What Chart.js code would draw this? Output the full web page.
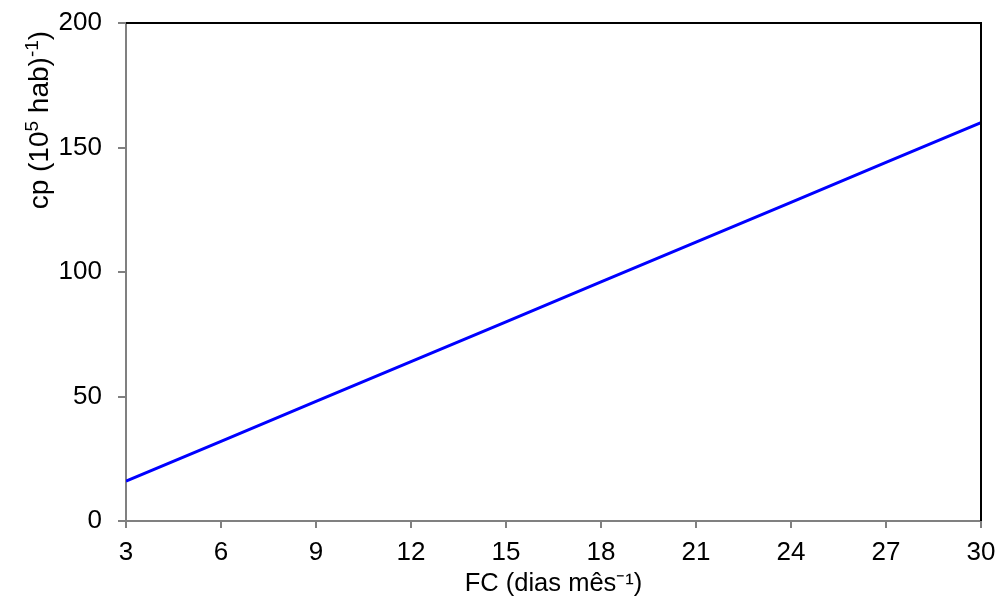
<!DOCTYPE html>
<html>
<head>
<meta charset="utf-8">
<script src="https://cdn.jsdelivr.net/npm/chart.js@4"></script>
<style>
html,body{margin:0;padding:0;background:#fff;}
#wrap{width:998px;height:604px;}
</style>
</head>
<body>
<div id="wrap"><canvas id="c" width="998" height="604"></canvas></div>
<script>
const fcValues = [3, 6, 9, 12, 15, 18, 21, 24, 27, 30];
const cpValues = [16, 32, 48, 64, 80, 96, 112, 128, 144, 160];
const xTicks = [3, 6, 9, 12, 15, 18, 21, 24, 27, 30];
const yTicks = [0, 50, 100, 150, 200];
const xTitle = 'FC (dias mês⁻¹)';
// y title pieces: [text, isSuperscript]
const yTitleParts = [['cp (10', false], ['5', true], [' hab)', false], ['-1', true], [')', false]];

const FONT = '"Liberation Sans", Arial, Helvetica, sans-serif';
const AXIS_GRAY = '#808080';

const frame = {
  id: 'frame',
  afterDatasetsDraw(chart) {
    const {ctx, chartArea: a} = chart;
    ctx.save();
    ctx.strokeStyle = '#000';
    ctx.lineWidth = 2;
    ctx.beginPath();
    ctx.moveTo(a.left, a.top);
    ctx.lineTo(a.right, a.top);
    ctx.lineTo(a.right, a.bottom);
    ctx.stroke();
    ctx.restore();
  }
};

// y-axis title drawn in the upper part of the axis, as in the reference
const yTitlePlugin = {
  id: 'yTitlePlugin',
  afterDraw(chart) {
    const {ctx} = chart;
    const ys = chart.scales.y;
    const cy = ys.getPixelForValue(161);
    const size = 28, supSize = 19, rise = 10;
    ctx.save();
    let total = 0;
    for (const [t, sup] of yTitleParts) {
      ctx.font = (sup ? supSize : size) + 'px ' + FONT;
      total += ctx.measureText(t).width;
    }
    ctx.translate(38, cy);
    ctx.rotate(-Math.PI / 2);
    ctx.fillStyle = '#000';
    ctx.textAlign = 'left';
    ctx.textBaseline = 'alphabetic';
    let x = -total / 2;
    const base = size * 0.36;
    for (const [t, sup] of yTitleParts) {
      ctx.font = (sup ? supSize : size) + 'px ' + FONT;
      ctx.fillText(t, x, sup ? base - rise : base);
      x += ctx.measureText(t).width;
    }
    ctx.restore();
  }
};

function zeroPad(s) {
  s.paddingTop = 0; s.paddingBottom = 0; s.paddingLeft = 0; s.paddingRight = 0;
}

new Chart(document.getElementById('c'), {
  type: 'line',
  data: {
    datasets: [{
      data: fcValues.map((x, i) => ({x: x, y: cpValues[i]})),
      borderColor: '#0000FF',
      borderWidth: 3,
      pointRadius: 0,
      tension: 0,
      fill: false
    }]
  },
  plugins: [frame, yTitlePlugin],
  options: {
    responsive: false,
    animation: false,
    devicePixelRatio: 1,
    layout: {padding: {left: 0, right: 17, top: 23, bottom: 0}},
    plugins: {legend: {display: false}, tooltip: {enabled: false}},
    scales: {
      x: {
        type: 'linear',
        min: 3, max: 30,
        afterBuildTicks(s) { s.ticks = xTicks.map(v => ({value: v})); },
        afterFit(s) { s.height = 83; zeroPad(s); },
        grid: {display: true, drawOnChartArea: false, drawTicks: true, tickLength: 7, color: AXIS_GRAY, lineWidth: 2},
        border: {display: true, color: AXIS_GRAY, width: 2},
        ticks: {color: '#000', font: {family: FONT, size: 26}, padding: 9, maxRotation: 0, autoSkip: false},
        title: {display: true, text: xTitle, color: '#000', font: {family: FONT, size: 25.5}, padding: {top: 0, bottom: 5}}
      },
      y: {
        type: 'linear',
        min: 0, max: 200,
        afterBuildTicks(s) { s.ticks = yTicks.map(v => ({value: v})); },
        afterFit(s) { s.width = 126; zeroPad(s); },
        grid: {display: true, drawOnChartArea: false, drawTicks: true, tickLength: 8, color: AXIS_GRAY, lineWidth: 2},
        border: {display: true, color: AXIS_GRAY, width: 2},
        ticks: {color: '#000', font: {family: FONT, size: 26}, padding: 16},
        title: {display: false, text: 'cp (10⁵ hab)⁻¹)'}
      }
    }
  }
});
</script>
</body>
</html>
